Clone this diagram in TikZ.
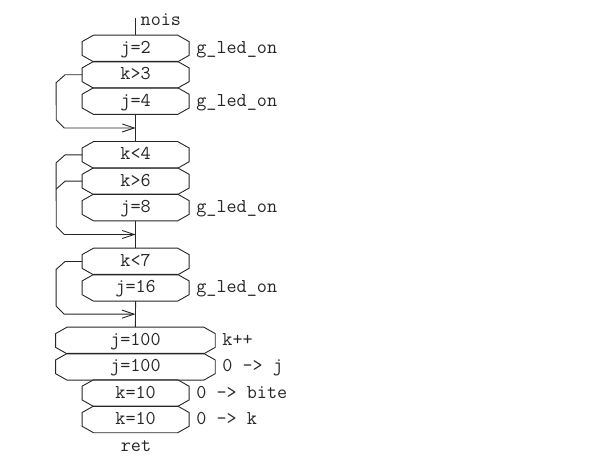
\documentclass[tikz,border=0pt]{standalone}
\usepackage{fontspec}
\usetikzlibrary{calc,arrows.meta}
\begin{document}
\begin{tikzpicture}[x=1pt,y=-1pt,
  txt/.style={font=\ttfamily\fontsize{19.6}{22}\selectfont, text=black!85, text height=10pt, text depth=0pt, inner sep=0pt},
  box/.style={txt, rectangle, minimum height=26.3pt, minimum width=106.7pt},
  wbox/.style={box, minimum width=159.3pt},
  lbl/.style={txt, anchor=west},
  ln/.style={draw=black!85, line width=0.9pt},
  arr/.style={ln, -{Straight Barb[length=12pt,width=8pt,line width=0.9pt]}}]
\useasboundingbox (0,0) rectangle (600,470);
% boxes
\node[box]  (b1)  at (135.6,48.5)  {j=2};
\node[box]  (b2)  at (135.6,74.8)  {k>3};
\node[box]  (b3)  at (135.6,101.1) {j=4};
\node[box]  (b4)  at (135.6,154.9) {k<4};
\node[box]  (b5)  at (135.6,181.2) {k>6};
\node[box]  (b6)  at (135.6,207.5) {j=8};
\node[box]  (b7)  at (135.6,261.5) {k<7};
\node[box]  (b8)  at (135.6,287.8) {j=16};
\node[wbox] (b9)  at (135.4,340.5) {j=100};
\node[wbox] (b10) at (135.4,366.8) {j=100};
\node[box]  (b11) at (135.6,393.1) {k=10};
\node[box]  (b12) at (135.6,419.4) {k=10};
% octagon outlines
\foreach \i in {1,...,12}{
  \draw[ln] ([xshift=11.5]b\i.north west) -- ([xshift=-11.5]b\i.north east)
    -- ([yshift=-6.5]b\i.north east) -- ([yshift=6.5]b\i.south east)
    -- ([xshift=-11.5]b\i.south east) -- ([xshift=11.5]b\i.south west)
    -- ([yshift=6.5]b\i.south west) -- ([yshift=-6.5]b\i.north west) -- cycle;
}
% side labels
\node[lbl] (l1)  at ([xshift=7]b1.east)  {g\_led\_on};
\node[lbl] (l3)  at ([xshift=7]b3.east)  {g\_led\_on};
\node[lbl] (l6)  at ([xshift=7]b6.east)  {g\_led\_on};
\node[lbl] (l8)  at ([xshift=7]b8.east)  {g\_led\_on};
\node[lbl] (l9)  at ([xshift=7]b9.east)  {k++};
\node[lbl] (l10) at ([xshift=7]b10.east) {0 -> j};
\node[lbl] (l11) at ([xshift=7]b11.east) {0 -> bite};
\node[lbl] (l12) at ([xshift=7]b12.east) {0 -> k};
% entry and exit
\node[txt, anchor=base west] (nois) at (140.5,26) {nois};
\node[txt, anchor=base] (ret) at (136,451) {ret};
\coordinate (top) at (135.6,18);
\coordinate (m1) at ($(b3.south)!0.5!(b4.north)$);
\coordinate (m2) at ($(b6.south)!0.5!(b7.north)$);
\coordinate (m3) at ($(b8.south)!0.5!(b9.north)$);
% vertical connectors
\draw[ln] (top) -- (b1.north);
\draw[ln] (b3.south) -- (b4.north);
\draw[ln] (b6.south) -- (b7.north);
\draw[ln] (b8.south) -- (b9.north);
% loops
\draw[arr] (b2.west) -- ++(-17,0) -- ++(-9,8) -- ($(m1)+(-79.3,-8)$) -- ++(8,8) -- (m1);
\draw[arr] (b4.west) -- ++(-17,0) -- ++(-9,8) -- ($(m2)+(-79.3,-8)$) -- ++(8,8) -- (m2);
\draw[ln]  (b5.west) -- ++(-17,0) -- ++(-9,8);
\draw[arr] (b7.west) -- ++(-17,0) -- ++(-9,8) -- ($(m3)+(-79.3,-8)$) -- ++(8,8) -- (m3);
\end{tikzpicture}
\end{document}
